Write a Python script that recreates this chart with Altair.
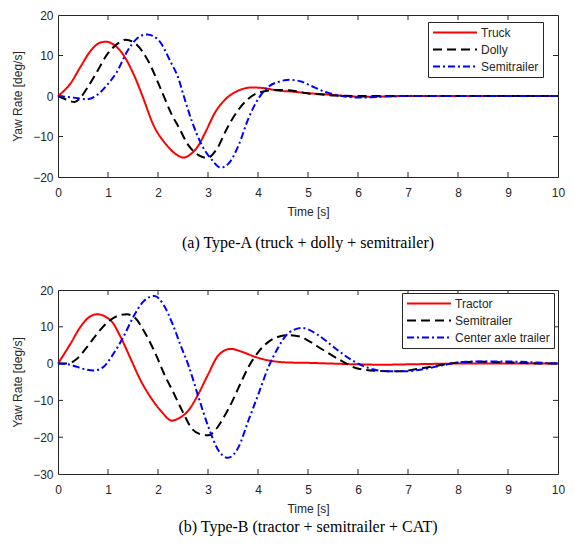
import altair as alt
import pandas as pd

# ---------------- data ----------------
# (a) Type-A
A_names = ["Truck", "Dolly", "Semitrailer"]
truck_t = [0, 0.25, 0.45, 0.65, 0.85, 0.97, 1.1, 1.31, 1.55, 1.68, 1.91, 2.18, 2.35, 2.51, 2.65, 2.81,
           2.95, 3.15, 3.35, 3.55, 3.88, 4.15, 4.41, 4.68, 5.0, 5.35, 5.75, 6.1, 6.5, 7.0, 8.0, 9.0, 10.0]
truck_v = [0, 3.1, 7.2, 11.1, 13.2, 13.4, 12.8, 10.1, 4.3, 0.3, -7.2, -12.2, -14.3, -15.2, -14.4, -12.2,
           -8.9, -3.9, -0.8, 1.0, 2.1, 1.9, 1.3, 1.1, 0.7, 0.4, 0.0, -0.2, -0.1, 0, 0, 0, 0]
dolly_t = [0, 0.15, 0.33, 0.45, 0.58, 0.78, 0.98, 1.18, 1.35, 1.58, 1.81, 2.05, 2.28, 2.41, 2.61, 2.81,
           2.98, 3.18, 3.38, 3.58, 3.78, 4.01, 4.41, 4.75, 5.01, 5.15, 5.55, 6.0, 7, 8, 9, 10]
dolly_v = [0, -0.8, -1.5, -0.4, 1.9, 6.0, 10.2, 12.8, 13.9, 12.6, 8.5, 1.9, -4.7, -7.6, -12.2, -14.6,
           -15.3, -13.0, -8.0, -3.9, -1.0, 0.8, 1.5, 1.2, 0.6, 0.5, 0.1, 0, 0, 0, 0, 0]
semiA_t = [0, 0.31, 0.58, 0.78, 0.98, 1.18, 1.38, 1.58, 1.78, 2.01, 2.25, 2.41, 2.51, 2.68, 2.88, 3.08,
           3.25, 3.41, 3.61, 3.81, 4.01, 4.21, 4.41, 4.63, 4.88, 5.01, 5.35, 5.68, 6.01, 6.41, 7, 8, 9, 10]
semiA_v = [0, -0.4, -0.8, 0.2, 2.7, 6.0, 10.9, 14.2, 15.2, 13.8, 8.5, 4.3, 0.2, -6.3, -12.2, -15.8,
           -17.7, -16.7, -12.2, -5.5, -0.6, 2.3, 3.5, 4.0, 3.5, 2.8, 1.0, 0.0, -0.4, -0.2, 0, 0, 0, 0]

# (b) Type-B
B_names = ["Tractor", "Semitrailer ", "Center axle trailer"]
tractor_t = [0, 0.25, 0.45, 0.61, 0.78, 1.05, 1.25, 1.45, 1.65, 1.85, 2.05, 2.28, 2.41, 2.61, 2.81, 3.01,
             3.21, 3.45, 3.68, 3.95, 4.28, 4.61, 5.01, 5.5, 6.0, 6.5, 7.0, 8, 9, 10]
tractor_v = [0, 5.4, 10.0, 12.5, 13.4, 11.8, 7.3, 1.4, -4.5, -9.1, -12.7, -15.5, -14.9, -12.7, -8.2, -2.7,
             2.3, 4.0, 3.2, 1.8, 0.7, 0.3, 0.2, 0.0, -0.2, -0.3, -0.2, 0, 0, 0]
semiB_t = [0, 0.18, 0.38, 0.58, 0.78, 0.98, 1.18, 1.38, 1.55, 1.75, 1.95, 2.12, 2.32, 2.48, 2.68, 2.85,
           3.01, 3.15, 3.28, 3.48, 3.65, 3.81, 4.01, 4.21, 4.41, 4.61, 4.85, 5.01, 5.28, 5.61, 6.01, 6.41,
           6.81, 7.21, 7.61, 8.01, 8.41, 9.08, 9.75, 10]
semiB_v = [0, 0, 1.3, 4.5, 8.1, 11.1, 12.9, 13.4, 12.3, 8.1, 2.7, -2.7, -8.2, -12.7, -17.7, -19.2,
           -19.5, -18.0, -15.4, -10.4, -5.4, -0.9, 3.2, 5.9, 7.3, 7.7, 7.3, 6.2, 3.9, 1.2, -1.4, -2.0,
           -2.1, -1.4, -0.5, 0.3, 0.5, 0.3, 0, 0]
cat_t = [0, 0.2, 0.38, 0.55, 0.71, 0.91, 1.11, 1.31, 1.51, 1.71, 1.93, 2.11, 2.3, 2.45, 2.61, 2.81, 3.01,
         3.21, 3.4, 3.61, 3.81, 4.01, 4.21, 4.41, 4.61, 4.88, 5.21, 5.55, 5.88, 6.21, 6.61, 6.95, 7.35,
         7.75, 8.15, 8.68, 9.21, 10]
cat_v = [0, -0.2, -0.9, -1.6, -1.9, -0.9, 2.7, 7.3, 12.8, 16.9, 18.4, 16.0, 10.5, 5.0, -0.5, -9.1, -17.3,
         -23.6, -25.6, -22.7, -15.4, -8.2, -0.9, 4.5, 8.3, 9.7, 7.7, 4.1, 0.9, -1.2, -2.1, -2.1, -1.4,
         -0.3, 0.5, 0.6, 0.5, 0]

x_ticks = [0, 1, 2, 3, 4, 5, 6, 7, 8, 9, 10]
A_yticks = [-20, -10, 0, 10, 20]
B_yticks = [-30, -20, -10, 0, 10, 20]

COLORS = ["#ff0000", "#000000", "#0000ff"]
DASHES = [[1, 0], [9, 5], [7, 3, 2, 3]]
AX = "#262626"
SANS = "Liberation Sans"
SERIF = "Liberation Serif"
W = 500


def build_df(names, ts, vs):
    rows = []
    for n, t, v in zip(names, ts, vs):
        for a, b in zip(t, v):
            rows.append({"series": n, "t": a, "v": b})
    return pd.DataFrame(rows)


def panel(names, ts, vs, ydom, yticks, H, caption, cap_off, lx, ly):
    df = build_df(names, ts, vs)
    xs = alt.Scale(domain=[0, 10], nice=False, zero=False)
    ys = alt.Scale(domain=ydom, nice=False, zero=False)
    xaxis = alt.Axis(values=x_ticks, ticks=False, domain=False, grid=False,
                     labelPadding=10, titlePadding=8, labelFlush=False, labelOverlap=False)
    yaxis = alt.Axis(values=yticks, ticks=False, domain=False, grid=False,
                     labelPadding=5, titlePadding=8, labelOverlap=False)

    def X():
        return alt.X("t:Q", scale=xs, title="Time [s]", axis=xaxis)

    def Y():
        return alt.Y("v:Q", scale=ys, title="Yaw Rate [deg/s]", axis=yaxis)

    leg = alt.Legend(orient="none", legendX=lx, legendY=ly, title=None,
                     symbolType="M-1,0H7", symbolSize=121, symbolStrokeWidth=2,
                     labelFont=SANS, labelFontSize=12, labelColor=AX,
                     strokeColor=AX, fillColor="white", padding=4,
                     rowPadding=4, labelOffset=36, cornerRadius=0)
    lines = alt.Chart(df).mark_line(strokeWidth=2, interpolate="monotone").encode(
        x=X(), y=Y(),
        color=alt.Color("series:N", scale=alt.Scale(domain=names, range=COLORS), legend=leg),
        strokeDash=alt.StrokeDash("series:N", scale=alt.Scale(domain=names, range=DASHES), legend=leg),
    )
    inner_x = pd.DataFrame({"t": x_ticks[1:-1]})
    inner_y = pd.DataFrame({"v": yticks[1:-1]})
    tb = alt.Chart(inner_x).mark_rule(color=AX, strokeWidth=1).encode(
        x=X(), y=alt.value(H), y2=alt.value(H - 5))
    tt = alt.Chart(inner_x).mark_rule(color=AX, strokeWidth=1).encode(
        x=X(), y=alt.value(0), y2=alt.value(5))
    tl = alt.Chart(inner_y).mark_rule(color=AX, strokeWidth=1).encode(
        y=Y(), x=alt.value(0), x2=alt.value(5))
    tr = alt.Chart(inner_y).mark_rule(color=AX, strokeWidth=1).encode(
        y=Y(), x=alt.value(W), x2=alt.value(W - 5))
    return alt.layer(lines, tb, tt, tl, tr).properties(
        width=W, height=H,
        title=alt.TitleParams(caption, orient="bottom", anchor="middle", frame="group",
                              font=SERIF, fontSize=16, fontWeight="normal", color="black",
                              offset=cap_off),
    )


top = panel(A_names, [truck_t, dolly_t, semiA_t], [truck_v, dolly_v, semiA_v],
            [-20, 20], A_yticks, 162, "(a) Type-A (truck + dolly + semitrailer)", 18, 370, 7)
bot = panel(B_names, [tractor_t, semiB_t, cat_t], [tractor_v, semiB_v, cat_v],
            [-30, 20], B_yticks, 184, "(b) Type-B (tractor + semitrailer + CAT)", 5, 344, 3)

chart = alt.vconcat(top, bot, spacing=31).resolve_scale(
    color="independent", strokeDash="independent", x="independent", y="independent"
).resolve_legend(color="independent", strokeDash="independent").properties(
    padding={"left": 3, "top": 0, "right": 0, "bottom": 0}, background="white"
).configure_view(stroke=AX, strokeWidth=1).configure_axis(
    labelFont=SANS, labelFontSize=12, labelColor=AX,
    titleFont=SANS, titleFontSize=12, titleColor=AX, titleFontWeight="normal"
)

chart.save("out.html", embed_options={"renderer": "svg", "actions": False})
